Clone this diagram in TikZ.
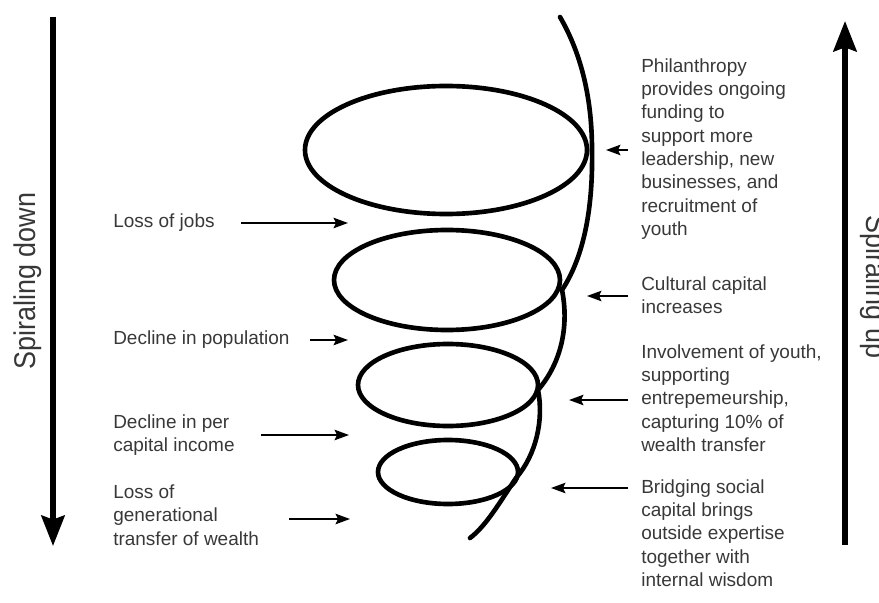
\documentclass[tikz,border=0pt]{standalone}
\usepackage{fontspec}
\setmainfont{Liberation Sans}
\usetikzlibrary{arrows.meta}
\definecolor{txtgray}{gray}{0.22}

\begin{document}
\begin{tikzpicture}[x=0.025cm,y=-0.025cm]
\tikzstyle{every node}+=[inner sep=0pt, text=txtgray]
\tikzstyle{note}=[anchor=west, align=left, font=\fontsize{13.5}{16.6}\selectfont]
\tikzstyle{side}=[anchor=base, font=\fontsize{21.3}{24}\selectfont]
\tikzstyle{bigarrow}=[line width=3.8pt, -{Stealth[length=0.76cm,width=0.58cm,inset=0.1cm]}]
\tikzstyle{pointer}=[line width=1.4pt, shorten <=0.65cm, -{Stealth[length=0.36cm,width=0.26cm,inset=0.06cm]}]
\tikzstyle{coil}=[line width=3.3pt]
\useasboundingbox (0,0) rectangle (879,603);

\draw [coil] (446,150) ellipse [x radius=141, y radius=64];
\draw [coil] (447,280) ellipse [x radius=113, y radius=50];
\draw [coil] (448,385) ellipse [x radius=90, y radius=41];
\draw [coil] (448,472) ellipse [x radius=70, y radius=32];
\draw [coil, line cap=round] (560,17) .. controls (582,55) and (592,100) .. (592,150)
  .. controls (593,205) and (585,255) .. (562,290)
  .. controls (569,325) and (562,362) .. (538,390)
  .. controls (544,420) and (536,455) .. (516,478)
  .. controls (500,502) and (486,526) .. (470,538);

\coordinate (downTop) at (53,17);
\coordinate (downEnd) at (53,546);
\draw [bigarrow] (downTop) -- (downEnd);
\node [side, rotate=90] (down) at (35,281) {\scalebox{0.9}[1]{Spiraling down}};

\coordinate (upBottom) at (845,545);
\coordinate (upTop) at (845,21);
\draw [bigarrow] (upBottom) -- (upTop);
\node [side, rotate=-90] (up) at (866,287) {\scalebox{0.9}[1]{Spiraling up}};

\node [note] (jobs) at (113,223) {Loss of jobs};
\node [note] (population) at (113,340) {Decline in population};
\node [note] (income) at (113,435) {Decline in per\\capital income};
\node [note] (wealth) at (113,515) {Loss of\\generational\\transfer of wealth};

\coordinate (jobsTip) at (348,223);
\coordinate (populationTip) at (348,340);
\coordinate (incomeTip) at (349,435);
\coordinate (wealthTip) at (350,519);
\draw [pointer] (jobs) -- (jobsTip);
\draw [pointer, shorten <=0.5cm] (population) -- (populationTip);
\draw [pointer] (income) -- (incomeTip);
\draw [pointer, shorten <=0.75cm] (wealth.east |- wealthTip) -- (wealthTip);

\node [note] (philanthropy) at (641,149) {Philanthropy\\provides ongoing\\funding to\\support more\\leadership, new\\businesses, and\\recruitment of\\youth};
\node [note] (cultural) at (641,295) {Cultural capital\\increases};
\node [note] (youth) at (641,398) {Involvement of youth,\\supporting\\entrepemeurship,\\capturing 10\% of\\wealth transfer};
\node [note] (bridging) at (641,533) {Bridging social\\capital brings\\outside expertise\\together with\\internal wisdom};

\coordinate (philanthropyTip) at (606,150);
\coordinate (culturalTip) at (587,296);
\coordinate (youthTip) at (569,400);
\coordinate (bridgingTip) at (551,488);
\draw [pointer, shorten <=0.32cm] (philanthropy.west |- philanthropyTip) -- (philanthropyTip);
\draw [pointer, shorten <=0.32cm] (cultural.west |- culturalTip) -- (culturalTip);
\draw [pointer, shorten <=0.32cm] (youth.west |- youthTip) -- (youthTip);
\draw [pointer, shorten <=0.32cm] (bridging.west |- bridgingTip) -- (bridgingTip);
\end{tikzpicture}
\end{document}
